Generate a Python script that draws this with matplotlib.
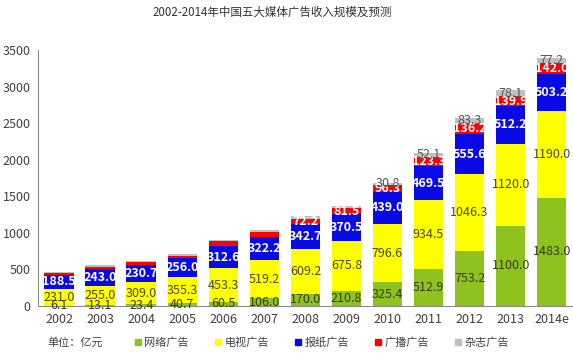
import numpy as np
import matplotlib
matplotlib.use("Agg")
import matplotlib.pyplot as plt
from matplotlib.lines import Line2D

plt.rcParams['font.family'] = ['Noto Sans CJK SC', 'DejaVu Sans']

years = ["2002", "2003", "2004", "2005", "2006", "2007", "2008",
         "2009", "2010", "2011", "2012", "2013", "2014e"]
internet = [6.1, 13.1, 23.4, 40.7, 60.5, 106.0, 170.0, 210.8, 325.4, 512.9, 753.2, 1100.0, 1483.0]
tv = [231.0, 255.0, 309.0, 355.3, 453.3, 519.2, 609.2, 675.8, 796.6, 934.5, 1046.3, 1120.0, 1190.0]
newspaper = [188.5, 243.0, 230.7, 256.0, 312.6, 322.2, 342.7, 370.5, 439.0, 469.5, 555.6, 512.2, 503.2]
radio = [22.0, 26.0, 33.0, 39.0, 57.0, 63.0, 72.2, 81.5, 96.3, 123.3, 136.2, 139.9, 142.0]
magazine = [15.0, 24.0, 20.0, 25.0, 24.0, 26.0, 31.0, 30.0, 30.8, 52.1, 83.3, 78.1, 77.2]

# which segments carry a value label (the reference omits small early ones)
radio_shown = [False] * 6 + [True] * 7
magazine_shown = [False] * 8 + [True] * 5

series = [
    ("网络广告", internet, "#8dc21f", "#3a3a1a", [True] * 13, False),
    ("电视广告", tv, "#ffff00", "#4a4a20", [True] * 13, False),
    ("报纸广告", newspaper, "#0a0ae6", "white", [True] * 13, True),
    ("广播广告", radio, "#ff0000", "white", radio_shown, True),
    ("杂志广告", magazine, "#c0c0c0", "#555555", magazine_shown, False),
]

fig = plt.figure(figsize=(5.73, 3.53), dpi=100)
ax = fig.add_axes([0.066, 0.133, 0.934, 0.725])

x = np.arange(len(years))
bottom = np.zeros(len(years))
handles = []
for name, vals, color, tcolor, shown, bold in series:
    vals = np.array(vals)
    ax.bar(x, vals, 0.72, bottom=bottom, color=color, linewidth=0)
    for i, v in enumerate(vals):
        if shown[i]:
            ax.text(x[i], bottom[i] + v / 2, f"{v:.1f}", ha="center", va="center",
                    fontsize=9, color=tcolor,
                    fontweight="bold" if bold else "normal")
    bottom += vals
    handles.append(Line2D([], [], marker="s", linestyle="", markersize=4,
                          color=color, label=name))

ax.set_xlim(-0.52, 12.52)
ax.set_ylim(0, 3500)
ax.set_yticks(np.arange(0, 3501, 500))
ax.set_xticks(x)
ax.set_xticklabels(years)
ax.tick_params(length=0, labelsize=9, colors="#404040", pad=5)
for s in ["top", "right"]:
    ax.spines[s].set_visible(False)
for s in ["left", "bottom"]:
    ax.spines[s].set_color("#8a8a8a")

fig.text(0.475, 0.964, "2002-2014年中国五大媒体广告收入规模及预测", ha="center",
         va="center", fontsize=8.3, color="#333333")
fig.text(0.131, 0.03, "单位：亿元", ha="center", va="center", fontsize=8,
         color="#404040")
fig.legend(handles=handles, loc="center", bbox_to_anchor=(0.562, 0.03), ncol=5,
           frameon=False, fontsize=8, handlelength=0.5, handletextpad=0.3,
           columnspacing=2.4, labelcolor="#404040")

fig.savefig("out.png", dpi=100)
